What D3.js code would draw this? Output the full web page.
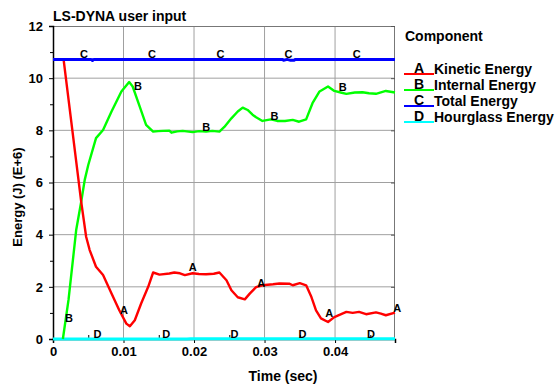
<!DOCTYPE html>
<html>
<head>
<meta charset="utf-8">
<script src="https://cdn.jsdelivr.net/npm/d3@7"></script>
<style>
  body { margin: 0; background: #fff; }
  text { font-family: "Liberation Sans", Arial, sans-serif; }
</style>
</head>
<body>
<div class="chart"></div>
<script>
var svgWidth = 555;
var svgHeight = 387;

// time (sec), energy (E+6 J)
var kinetic = [
  [0, 10.72], [0.0015, 10.72], [0.004, 5.26],
  [0.0047, 3.92], [0.0052, 3.41], [0.0061, 2.77], [0.0071, 2.45], [0.0083, 1.74],
  [0.0094, 1.10], [0.0104, 0.59], [0.0109, 0.49], [0.0116, 0.72], [0.0125, 1.36],
  [0.0135, 2.0], [0.0142, 2.55], [0.0151, 2.47], [0.0165, 2.51], [0.0172, 2.55],
  [0.018, 2.52], [0.0187, 2.45], [0.0198, 2.52], [0.0207, 2.49], [0.0217, 2.48],
  [0.0228, 2.5], [0.0236, 2.55], [0.0246, 2.25], [0.0253, 1.87], [0.0262, 1.6],
  [0.0272, 1.52], [0.0279, 1.74], [0.0288, 1.99], [0.0297, 2.06], [0.0312, 2.1],
  [0.0321, 2.13], [0.0335, 2.12], [0.034, 2.06], [0.035, 2.14], [0.0359, 2.06],
  [0.0366, 1.64], [0.0373, 1.10], [0.038, 0.79], [0.039, 0.65], [0.0399, 0.84],
  [0.0416, 1.04], [0.0425, 1.0], [0.0434, 1.04], [0.0444, 0.95], [0.0458, 1.02],
  [0.0465, 0.97], [0.0472, 0.91], [0.0485, 1.01]
];

var internal = [
  [0.0014, 0], [0.0022, 1.5], [0.0033, 4.2], [0.004, 5.26], [0.0045, 6.1],
  [0.005, 6.67], [0.0061, 7.7], [0.0071, 8.01], [0.0083, 8.72], [0.0097, 9.49],
  [0.0108, 9.85], [0.0113, 9.68], [0.0123, 8.91], [0.0132, 8.21], [0.0142, 7.95],
  [0.0149, 7.97], [0.0156, 7.98], [0.0165, 7.99], [0.0168, 7.91], [0.0176, 7.96],
  [0.0184, 7.98], [0.0198, 7.93], [0.0207, 7.97], [0.0217, 7.95], [0.0226, 7.98],
  [0.0236, 7.95], [0.0243, 8.13], [0.0253, 8.46], [0.0262, 8.72], [0.0269, 8.87],
  [0.0276, 8.78], [0.0283, 8.6], [0.0288, 8.5], [0.0297, 8.36], [0.0309, 8.42],
  [0.0318, 8.36], [0.0329, 8.36], [0.034, 8.4], [0.0349, 8.33], [0.0359, 8.42],
  [0.0368, 9.04], [0.0378, 9.49], [0.039, 9.68], [0.0399, 9.51], [0.0408, 9.45],
  [0.0416, 9.4], [0.0428, 9.45], [0.0439, 9.46], [0.0448, 9.42], [0.0458, 9.4],
  [0.0472, 9.51], [0.0485, 9.45]
];

var total = [
  [0, 10.72], [0.0054, 10.72], [0.0056, 10.68], [0.0058, 10.72], [0.0325, 10.72],
  [0.0327, 10.69], [0.0332, 10.72], [0.0336, 10.69], [0.0342, 10.69], [0.0344, 10.72],
  [0.0485, 10.72]
];

var hourglass = [
  [0, 0], [0.019, 0], [0.0195, 0.01], [0.0485, 0.01]
];

// letter markers along each curve: [time, energy]
var labelsA = [[0.01006, 0.95], [0.01983, 2.61], [0.02952, 2.0], [0.03919, 0.86], [0.04882, 1.04]];
var labelsB = [[0.00227, 0.67], [0.01204, 9.55], [0.02173, 7.99], [0.0314, 8.41], [0.04108, 9.52]];
var labelsC = [[0.00439, 10.77], [0.01402, 10.77], [0.02375, 10.77], [0.03339, 10.77], [0.04306, 10.77]];
var labelsD = [[0.00629, 0.05], [0.01606, 0.05], [0.02573, 0.05], [0.03537, 0.05], [0.0451, 0.05]];

var seriesNames = ["Kinetic Energy", "Internal Energy", "Total Energy", "Hourglass Energy"];
var seriesLetters = ["A", "B", "C", "D"];
var seriesColors = ["#ff0000", "#00ff00", "#0000ff", "#00ffff"];

var xTicks = [0, 0.01, 0.02, 0.03, 0.04];
var xMinor = [0.005, 0.015, 0.025, 0.035, 0.045];
var yTicks = [0, 2, 4, 6, 8, 10, 12];
var yMinor = [1, 3, 5, 7, 9, 11];

var margin = { top: 26, right: 160, bottom: 48, left: 53 };
var width = 342;
var height = 313;

var svg = d3.select(".chart")
  .append("svg")
  .attr("width", svgWidth)
  .attr("height", svgHeight);

var chartGroup = svg.append("g")
  .attr("transform", `translate(${margin.left}, ${margin.top})`);

var x = d3.scaleLinear().domain([0, 0.0485]).range([0, width]);
var y = d3.scaleLinear().domain([0, 12]).range([height, 0]);

// grid
chartGroup.append("g").selectAll("line")
  .data(xTicks.slice(1))
  .enter().append("line")
  .attr("x1", d => x(d)).attr("x2", d => x(d))
  .attr("y1", 0).attr("y2", height)
  .attr("stroke", "#a0a0a0").attr("stroke-width", 1);

chartGroup.append("g").selectAll("line")
  .data(yTicks.slice(1, -1))
  .enter().append("line")
  .attr("x1", 0).attr("x2", width)
  .attr("y1", d => y(d)).attr("y2", d => y(d))
  .attr("stroke", "#a0a0a0").attr("stroke-width", 1);

// frame top / right
chartGroup.append("line").attr("x1", 0).attr("x2", width).attr("y1", 0.5).attr("y2", 0.5)
  .attr("stroke", "#777");
chartGroup.append("line").attr("x1", width - 0.5).attr("x2", width - 0.5).attr("y1", 0).attr("y2", height)
  .attr("stroke", "#777");

// right ticks
chartGroup.append("g")
  .attr("transform", `translate(${width}, 0)`)
  .call(d3.axisRight(y).tickValues(yTicks).tickSize(-4).tickFormat(""))
  .call(g => g.select(".domain").remove())
  .selectAll("line").attr("stroke", "#555");

// axes
var bottomAxis = d3.axisBottom(x)
  .tickValues(xTicks)
  .tickSize(4)
  .tickPadding(4)
  .tickFormat(d => d === 0 ? "0" : d3.format(".2f")(d));

var leftAxis = d3.axisLeft(y)
  .tickValues(yTicks)
  .tickSize(4)
  .tickPadding(6);

chartGroup.append("g")
  .attr("transform", `translate(0, ${height})`)
  .call(bottomAxis);

chartGroup.append("g")
  .attr("transform", `translate(0, ${height})`)
  .call(d3.axisTop(x).tickValues(xMinor).tickSize(4).tickFormat(""))
  .call(g => g.select(".domain").remove());

chartGroup.append("g")
  .call(leftAxis);

chartGroup.append("g")
  .call(d3.axisLeft(y).tickValues(yMinor).tickSize(3).tickFormat(""))
  .call(g => g.select(".domain").remove());

chartGroup.selectAll(".tick text")
  .attr("font-family", "Liberation Sans, Arial, sans-serif")
  .attr("font-size", "13px")
  .attr("font-weight", "bold")
  .attr("fill", "#000");

chartGroup.selectAll(".domain").attr("stroke", "#000").attr("stroke-width", 1.5);

// lines
var line = d3.line()
  .x(d => x(d[0]))
  .y(d => y(d[1]));

var allSeries = [kinetic, internal, total, hourglass];
var allLabels = [labelsA, labelsB, labelsC, labelsD];
var drawOrder = [3, 1, 0, 2];

drawOrder.forEach(function(i) {
  chartGroup.append("path")
    .datum(allSeries[i])
    .attr("fill", "none")
    .attr("stroke", seriesColors[i])
    .attr("stroke-width", i === 2 || i === 3 ? 3 : 2.4)
    .attr("stroke-linejoin", "round")
    .attr("d", line);
});

allLabels.forEach(function(labels, i) {
  chartGroup.selectAll(null)
    .data(labels)
    .enter()
    .append("text")
    .text(seriesLetters[i])
    .attr("x", d => x(d[0]))
    .attr("y", d => y(d[1]))
    .attr("text-anchor", "middle")
    .attr("font-size", "11px")
    .attr("font-weight", "bold")
    .attr("fill", "#000");
});

// title and axis labels
svg.append("text")
  .attr("x", 53).attr("y", 21)
  .attr("font-size", "14px").attr("font-weight", "bold")
  .text("LS-DYNA user input");

svg.append("text")
  .attr("transform", "rotate(-90)")
  .attr("x", -197).attr("y", 22)
  .attr("text-anchor", "middle")
  .attr("font-size", "13px").attr("font-weight", "bold")
  .text("Energy (J) (E+6)");

svg.append("text")
  .attr("x", 283).attr("y", 381)
  .attr("text-anchor", "middle")
  .attr("font-size", "14px").attr("font-weight", "bold")
  .text("Time (sec)");

// legend
var legend = svg.append("g").attr("transform", "translate(404, 0)");

legend.append("text")
  .attr("x", 1).attr("y", 41)
  .attr("font-size", "14px").attr("font-weight", "bold")
  .text("Component");

var entries = legend.selectAll(".entry")
  .data(seriesNames)
  .enter().append("g")
  .attr("class", "entry")
  .attr("transform", (d, i) => `translate(0, ${74 + i * 16})`);

entries.append("line")
  .attr("x1", 0).attr("x2", 30).attr("y1", 0).attr("y2", 0)
  .attr("stroke", (d, i) => seriesColors[i])
  .attr("stroke-width", 2);

entries.append("text")
  .attr("x", 15).attr("y", -1)
  .attr("text-anchor", "middle")
  .attr("font-size", "14px").attr("font-weight", "bold")
  .text((d, i) => seriesLetters[i]);

entries.append("text")
  .attr("x", 30).attr("y", 0)
  .attr("font-size", "14px").attr("font-weight", "bold")
  .text(d => d);
</script>
</body>
</html>
